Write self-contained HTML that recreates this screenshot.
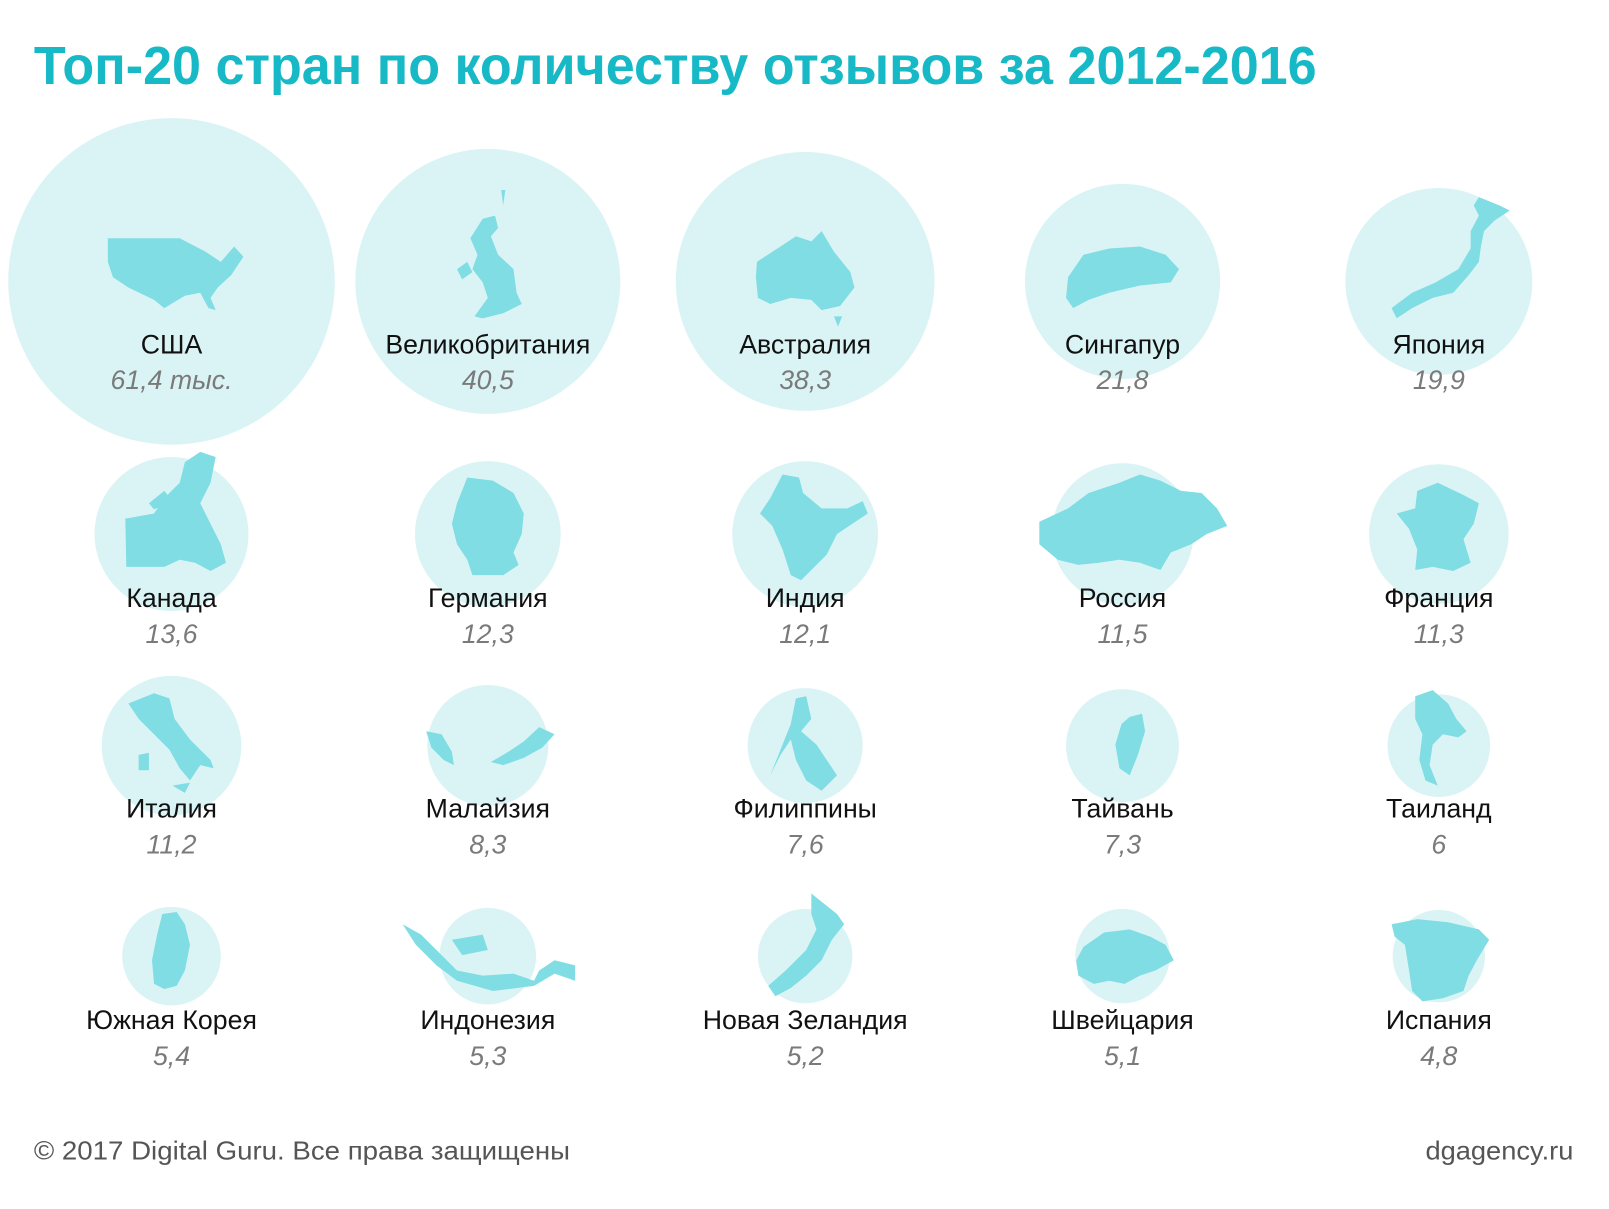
<!DOCTYPE html>
<html><head><meta charset="utf-8"><style>
body{margin:0;background:#fff;width:1609px;height:1209px;overflow:hidden}
svg{display:block}
.t{font-family:"Liberation Sans","DejaVu Sans",sans-serif;font-size:52px;font-weight:bold;fill:#17b9c6}
.n{font-family:"Liberation Sans","DejaVu Sans",sans-serif;font-size:26px;fill:#111;text-anchor:middle}
.v{font-family:"Liberation Sans","DejaVu Sans",sans-serif;font-size:26px;font-style:italic;fill:#7a7a7a;text-anchor:middle}
.f{font-family:"Liberation Sans","DejaVu Sans",sans-serif;font-size:25px;fill:#555}
.c{fill:#daf4f5}.m{fill:#7fdde3}
</style></head><body>
<svg width="1609" height="1209" viewBox="0 0 1609 1209">
<g transform="scale(1.027)">
<text class="t" x="33" y="82" textLength="1249" lengthAdjust="spacingAndGlyphs">Топ-20 стран по количеству отзывов за 2012-2016</text>
<circle class="c" cx="167" cy="274" r="159"/>
<circle class="c" cx="475" cy="274" r="129"/>
<circle class="c" cx="784" cy="274" r="126"/>
<circle class="c" cx="1093" cy="274" r="95"/>
<circle class="c" cx="1401" cy="274" r="91"/>
<circle class="c" cx="167" cy="520" r="75"/>
<circle class="c" cx="475" cy="520" r="71"/>
<circle class="c" cx="784" cy="520" r="71"/>
<circle class="c" cx="1093" cy="520" r="69"/>
<circle class="c" cx="1401" cy="520" r="68"/>
<circle class="c" cx="167" cy="726" r="68"/>
<circle class="c" cx="475" cy="726" r="59"/>
<circle class="c" cx="784" cy="726" r="56"/>
<circle class="c" cx="1093" cy="726" r="55"/>
<circle class="c" cx="1401" cy="726" r="50"/>
<circle class="c" cx="167" cy="931" r="48"/>
<circle class="c" cx="475" cy="931" r="47"/>
<circle class="c" cx="784" cy="931" r="46"/>
<circle class="c" cx="1093" cy="931" r="46"/>
<circle class="c" cx="1401" cy="931" r="45"/>
<path class="m" d="M105 232 L175 232 L200 245 L215 255 L228 240 L237 250 L225 268 L212 280 L205 290 L210 302 L203 300 L195 285 L180 288 L160 300 L150 292 L125 280 L110 270 L105 255Z"/>
<path class="m" d="M470 213 L482 210 L485 222 L478 230 L485 248 L500 262 L503 285 L508 296 L490 305 L470 310 L462 308 L475 290 L470 275 L460 262 L465 248 L458 232Z M445 262 L455 255 L460 265 L450 272Z M488 185 L492 185 L490 200Z"/>
<path class="m" d="M737 255 L760 240 L775 230 L790 235 L800 225 L812 245 L828 265 L832 280 L818 298 L800 302 L790 292 L770 290 L750 296 L738 290 L736 270Z M812 308 L820 308 L816 318Z"/>
<path class="m" d="M1040 270 L1055 248 L1080 242 L1110 240 L1135 248 L1148 262 L1140 275 L1110 278 L1080 285 L1060 292 L1045 300 L1038 290Z"/>
<path class="m" d="M1440 192 L1460 200 L1470 205 L1455 215 L1445 225 L1442 240 L1440 255 L1430 268 L1415 285 L1395 290 L1375 300 L1360 310 L1355 300 L1375 285 L1398 275 L1420 262 L1432 242 L1432 225 L1440 210 L1435 200Z"/>
<path class="m" d="M122 505 L150 500 L160 485 L175 470 L180 450 L195 440 L210 445 L205 470 L195 490 L205 510 L215 530 L220 548 L205 556 L190 548 L175 545 L160 552 L123 552Z M145 490 L160 478 L168 488 L150 496Z"/>
<path class="m" d="M455 465 L480 468 L500 480 L510 500 L508 520 L500 538 L505 550 L490 560 L460 560 L455 545 L445 530 L440 510 L445 490Z"/>
<path class="m" d="M762 462 L778 465 L782 480 L800 495 L825 495 L840 488 L845 500 L830 510 L815 520 L805 540 L790 555 L780 565 L770 560 L762 535 L752 512 L740 500 L750 485Z"/>
<path class="m" d="M1012 508 L1040 495 L1060 480 L1090 470 L1110 462 L1130 468 L1150 478 L1170 480 L1185 495 L1195 512 L1175 520 L1160 530 L1140 538 L1130 555 L1110 548 L1090 545 L1070 548 L1050 550 L1030 545 L1012 530Z"/>
<path class="m" d="M1380 478 L1400 470 L1425 482 L1440 490 L1435 510 L1425 525 L1432 548 L1415 556 L1395 552 L1378 555 L1380 535 L1372 515 L1360 500 L1378 495Z"/>
<path class="m" d="M125 685 L150 675 L165 680 L170 700 L185 720 L205 740 L208 748 L195 745 L185 760 L175 748 L165 730 L150 715 L135 700Z M135 735 L145 733 L145 750 L135 750Z M168 765 L185 762 L180 772Z"/>
<path class="m" d="M415 712 L430 715 L440 732 L442 745 L432 740 L420 728Z M478 742 L495 732 L510 722 L525 708 L540 715 L528 728 L510 738 L490 745Z"/>
<path class="m" d="M775 680 L785 678 L790 700 L780 712 L795 725 L805 740 L815 755 L800 770 L785 760 L775 740 L770 720 L760 735 L750 755 L770 705Z"/>
<path class="m" d="M1100 698 L1112 695 L1115 712 L1108 735 L1100 755 L1090 748 L1086 725 L1092 705Z"/>
<path class="m" d="M1378 678 L1395 672 L1410 685 L1418 700 L1428 712 L1420 718 L1405 715 L1395 725 L1392 745 L1400 765 L1388 760 L1382 740 L1385 715 L1378 700Z"/>
<path class="m" d="M158 890 L172 888 L180 900 L185 920 L180 945 L172 960 L160 963 L150 958 L148 935 L153 910Z"/>
<path class="m" d="M392 900 L410 910 L430 930 L445 945 L470 950 L500 948 L520 955 L525 945 L540 935 L560 940 L560 955 L540 948 L520 960 L480 965 L445 955 L425 940 L405 920Z M440 915 L470 910 L475 925 L450 930Z"/>
<path class="m" d="M790 870 L800 878 L815 890 L822 900 L810 915 L800 935 L785 950 L770 962 L755 970 L748 960 L765 945 L785 925 L795 905 L790 890Z"/>
<path class="m" d="M1055 922 L1075 908 L1100 905 L1120 912 L1135 920 L1143 935 L1125 945 L1110 950 L1095 958 L1080 955 L1065 958 L1050 950 L1048 935Z"/>
<path class="m" d="M1355 900 L1380 895 L1410 898 L1440 905 L1450 915 L1438 935 L1430 950 L1425 965 L1405 972 L1385 975 L1375 965 L1372 945 L1368 920 L1358 912Z"/>
<g>
<text class="n" x="167" y="344">США</text><text class="v" x="167" y="379">61,4 тыс.</text>
<text class="n" x="475" y="344">Великобритания</text><text class="v" x="475" y="379">40,5</text>
<text class="n" x="784" y="344">Австралия</text><text class="v" x="784" y="379">38,3</text>
<text class="n" x="1093" y="344">Сингапур</text><text class="v" x="1093" y="379">21,8</text>
<text class="n" x="1401" y="344">Япония</text><text class="v" x="1401" y="379">19,9</text>
<text class="n" x="167" y="591">Канада</text><text class="v" x="167" y="626">13,6</text>
<text class="n" x="475" y="591">Германия</text><text class="v" x="475" y="626">12,3</text>
<text class="n" x="784" y="591">Индия</text><text class="v" x="784" y="626">12,1</text>
<text class="n" x="1093" y="591">Россия</text><text class="v" x="1093" y="626">11,5</text>
<text class="n" x="1401" y="591">Франция</text><text class="v" x="1401" y="626">11,3</text>
<text class="n" x="167" y="796">Италия</text><text class="v" x="167" y="831">11,2</text>
<text class="n" x="475" y="796">Малайзия</text><text class="v" x="475" y="831">8,3</text>
<text class="n" x="784" y="796">Филиппины</text><text class="v" x="784" y="831">7,6</text>
<text class="n" x="1093" y="796">Тайвань</text><text class="v" x="1093" y="831">7,3</text>
<text class="n" x="1401" y="796">Таиланд</text><text class="v" x="1401" y="831">6</text>
<text class="n" x="167" y="1002">Южная Корея</text><text class="v" x="167" y="1037">5,4</text>
<text class="n" x="475" y="1002">Индонезия</text><text class="v" x="475" y="1037">5,3</text>
<text class="n" x="784" y="1002">Новая Зеландия</text><text class="v" x="784" y="1037">5,2</text>
<text class="n" x="1093" y="1002">Швейцария</text><text class="v" x="1093" y="1037">5,1</text>
<text class="n" x="1401" y="1002">Испания</text><text class="v" x="1401" y="1037">4,8</text>
</g>
<text class="f" x="33" y="1129" textLength="522" lengthAdjust="spacingAndGlyphs">© 2017 Digital Guru. Все права защищены</text>
<text class="f" x="1388" y="1129" textLength="144" lengthAdjust="spacingAndGlyphs">dgagency.ru</text>
</g>
</svg>
</body></html>
